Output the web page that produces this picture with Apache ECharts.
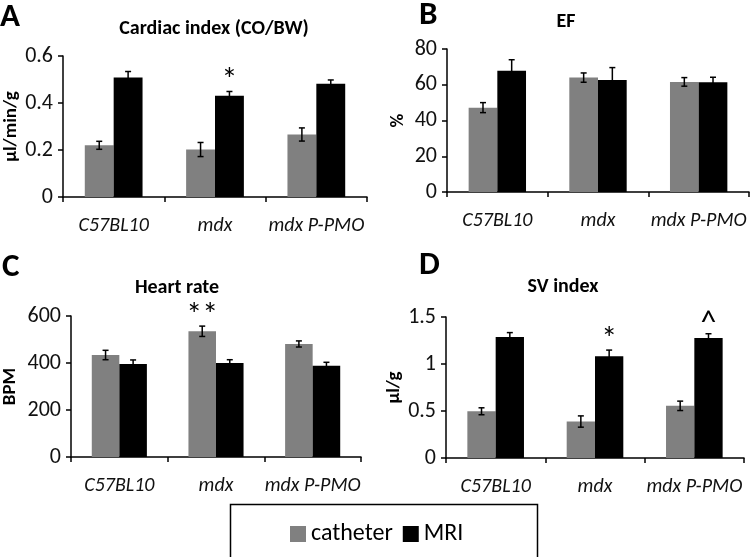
<!DOCTYPE html>
<html><head><meta charset="utf-8">
<script src="https://cdn.jsdelivr.net/npm/echarts@6/dist/echarts.min.js"></script>
<style>html,body{margin:0;padding:0;background:#fff}#c{width:752px;height:557px}</style>
</head><body><div id="c"></div>
<script>
const categories = ['C57BL10', 'mdx', 'mdx P-PMO'];
const seriesNames = ['catheter', 'MRI'];

// Panel A: Cardiac index (CO/BW)
const ciCatheter = [0.220, 0.202, 0.266];
const ciCatheterErr = [0.017, 0.030, 0.028];
const ciMRI = [0.509, 0.431, 0.482];
const ciMRIErr = [0.025, 0.018, 0.016];
const ciCatheterMarks = ['', '', ''];
const ciMRIMarks = ['', '*', ''];
const ciTicks = [0, 0.6, 0.2];

// Panel B: EF
const efCatheter = [47.2, 64.0, 61.6];
const efCatheterErr = [2.8, 2.6, 2.4];
const efMRI = [67.8, 62.6, 61.4];
const efMRIErr = [6.2, 7.0, 2.8];
const efCatheterMarks = ['', '', ''];
const efMRIMarks = ['', '', ''];
const efTicks = [0, 80, 20];

// Panel C: Heart rate
const hrCatheter = [434, 535, 481];
const hrCatheterErr = [20, 22, 13];
const hrMRI = [396, 400, 388];
const hrMRIErr = [17, 14, 15];
const hrCatheterMarks = ['', '**', ''];
const hrMRIMarks = ['', '', ''];
const hrTicks = [0, 600, 200];

// Panel D: SV index
const svCatheter = [0.497, 0.388, 0.555];
const svCatheterErr = [0.037, 0.060, 0.050];
const svMRI = [1.287, 1.083, 1.277];
const svMRIErr = [0.047, 0.065, 0.045];
const svCatheterMarks = ['', '', ''];
const svMRIMarks = ['', '*', '^'];
const svTicks = [0, 1.5, 0.5];

const FONT = 'Carlito, Lato, sans-serif';
const GAP = 0.43;
const colors = ['#808080', '#000000'];

const panels = [
  {letter:'A', title:'Cardiac index (CO/BW)', yName:'µl/min/g', ticks:ciTicks,
   vals:[ciCatheter, ciMRI], errs:[ciCatheterErr, ciMRIErr], marks:[ciCatheterMarks, ciMRIMarks],
   grid:{left:63, top:56, width:304, height:141}, nameGap:35, titlePos:[214,19], letterPos:[0,1]},
  {letter:'B', title:'EF', yName:'%', ticks:efTicks,
   vals:[efCatheter, efMRI], errs:[efCatheterErr, efMRIErr], marks:[efCatheterMarks, efMRIMarks],
   grid:{left:447, top:49, width:302, height:143}, nameGap:39, titlePos:[566,12], letterPos:[419,-1]},
  {letter:'C', title:'Heart rate', yName:'BPM', ticks:hrTicks,
   vals:[hrCatheter, hrMRI], errs:[hrCatheterErr, hrMRIErr], marks:[hrCatheterMarks, hrMRIMarks],
   grid:{left:69, top:316, width:292, height:141}, nameGap:51, titlePos:[177,278], letterPos:[2,251]},
  {letter:'D', title:'SV index', yName:'µl/g', ticks:svTicks,
   vals:[svCatheter, svMRI], errs:[svCatheterErr, svMRIErr], marks:[svCatheterMarks, svMRIMarks],
   grid:{left:446, top:317, width:298, height:141}, nameGap:42, titlePos:[563,277], letterPos:[419,249]}
];

const grid = [], xAxis = [], yAxis = [], series = [], title = [], graphic = [];

panels.forEach((p, i) => {
  grid.push(p.grid);
  title.push({text:p.title, left:p.titlePos[0], top:p.titlePos[1], textAlign:'center', padding:0,
    textStyle:{fontFamily:FONT, fontWeight:'bold', fontSize:20, color:'#000'}});
  graphic.push({type:'text', left:p.letterPos[0], top:p.letterPos[1],
    style:{text:p.letter, fontFamily:FONT, fontWeight:'bold', fontSize:33, fill:'#000'}});
  xAxis.push({type:'category', gridIndex:i, data:categories,
    axisLine:{lineStyle:{color:'#000', width:1.5}},
    axisTick:{show:true, length:5, lineStyle:{color:'#000', width:1.5}},
    axisLabel:{interval:0, fontFamily:FONT, fontStyle:'italic', fontSize:20, color:'#111', margin:19}});
  yAxis.push({type:'value', gridIndex:i, min:p.ticks[0], max:p.ticks[1], interval:p.ticks[2],
    name:p.yName, nameLocation:'middle', nameGap:p.nameGap,
    nameTextStyle:{fontFamily:FONT, fontWeight:'bold', fontSize:19, color:'#000'},
    axisLine:{show:true, lineStyle:{color:'#000', width:1.5}},
    axisTick:{show:true, length:5, lineStyle:{color:'#000', width:1.5}},
    splitLine:{show:false},
    axisLabel:{fontFamily:FONT, fontSize:22, color:'#111', margin:10}});
  for (let s = 0; s < 2; s++) {
    series.push({type:'bar', name:seriesNames[s], xAxisIndex:i, yAxisIndex:i,
      data:p.vals[s], barGap:'0%', barCategoryGap:(GAP*100)+'%',
      itemStyle:{color:colors[s]}, emphasis:{disabled:true}, z:2});
  }
  const errData = [], markList = [];
  for (let s = 0; s < 2; s++) {
    p.vals[s].forEach((v, k) => {
      errData.push([k, v, p.errs[s][k], s]);
      if (p.marks[s][k]) markList.push({d:[k, v + p.errs[s][k], s], t:p.marks[s][k]});
    });
  }
  series.push({type:'custom', xAxisIndex:i, yAxisIndex:i, data:errData, z:5, silent:true,
    encode:{x:0, y:1},
    renderItem:(params, api) => {
      const k = api.value(0), v = api.value(1), e = api.value(2), s = api.value(3);
      const bandW = api.size([1, 0])[0];
      const bw = bandW * (1 - GAP) / 2;
      const c = api.coord([k, v]);
      const x = c[0] + (s === 0 ? -bw / 2 : bw / 2);
      const top = api.coord([k, v + e])[1];
      const bot = api.coord([k, v - e])[1];
      const st = {stroke:'#000', lineWidth:1.5};
      return {type:'group', children:[
        {type:'line', shape:{x1:x, y1:top, x2:x, y2:bot}, style:st},
        {type:'line', shape:{x1:x-3, y1:top, x2:x+3, y2:top}, style:st},
        {type:'line', shape:{x1:x-3, y1:bot, x2:x+3, y2:bot}, style:st}
      ]};
    }});
  if (markList.length) {
    series.push({type:'custom', xAxisIndex:i, yAxisIndex:i, data:markList.map(m => m.d), z:5, silent:true,
      encode:{x:0, y:1},
      renderItem:(params, api) => {
        const k = api.value(0), v = api.value(1), s = api.value(2);
        const bandW = api.size([1, 0])[0];
        const bw = bandW * (1 - GAP) / 2;
        const c = api.coord([k, v]);
        const x = c[0] + (s === 0 ? -bw / 2 : bw / 2);
        return {type:'text', x:x, y:c[1] - 9,
          style:{text:markList[params.dataIndex].t, fontFamily:FONT, fontSize:32, fill:'#000',
            align:'center', verticalAlign:'middle'}};
      }});
  }
});

graphic.push({type:'rect', left:228, top:502, shape:{width:307, height:54},
  style:{fill:'none', stroke:'#000', lineWidth:1.5}});

const chart = echarts.init(document.getElementById('c'), null, {renderer:'canvas'});
chart.setOption({
  animation:false,
  backgroundColor:'#fff',
  title, grid, xAxis, yAxis, series, graphic,
  legend:{data:seriesNames, left:285, top:517, icon:'rect', itemWidth:16, itemHeight:16, itemGap:10,
    textStyle:{fontFamily:FONT, fontSize:24, color:'#000'}, selectedMode:false}
});
</script></body></html>
